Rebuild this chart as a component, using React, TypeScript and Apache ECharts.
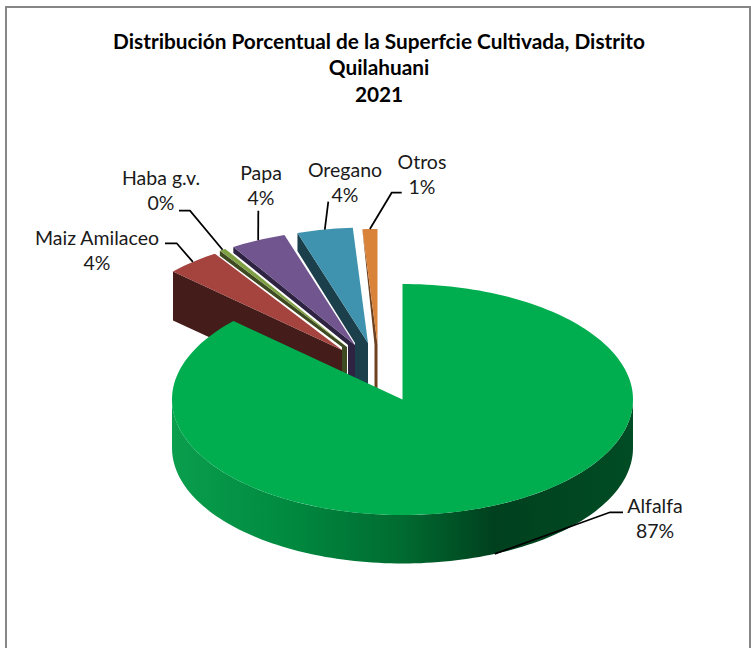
import React, { useEffect, useRef } from "react";
import * as echarts from "echarts";

const categories = ["Alfalfa", "Maiz Amilaceo", "Haba g.v.", "Papa", "Oregano", "Otros"];
const shares = [86.9, 3.8, 0.45, 3.9, 3.9, 1.05];
const titleLines = ["Distribución Porcentual de la Superfcie Cultivada, Distrito", "Quilahuani", "2021"];
const topColors = ["#00AE50", "#A5433F", "#7F9F45", "#70558E", "#3F93AE", "#D9823A"];
const wallColors = ["#006B30", "#441C19", "#3E4A22", "#2F2343", "#1C3F4C", "#6E4120"];

// Layout of the tilted, exploded pie
const CX = 402.5, CY = 399.5, RX = 230.5, RY = 115.5, DEPTH = 48.5;
// dx, dy: displacement of the slice tip; wallH, wallShift: visible shape of its dark wall
const explode = [
  { dx: 0, dy: 0, wallH: 0, wallShift: 0 },
  { dx: -60.5, dy: -49.5, wallH: 49, wallShift: 0 },
  { dx: -55.5, dy: -52.5, wallH: 5, wallShift: 5 },
  { dx: -47.5, dy: -54.5, wallH: 6, wallShift: 7 },
  { dx: -34.5, dy: -56.5, wallH: 18, wallShift: 13 },
  { dx: -25, dy: -55, wallH: 0, wallShift: 3 },
];
// label centre and the leader-line knee(s), per category
const labels = [
  { x: 655, y: 518, knee: [[610, 512.3], [623, 512.3]] },
  { x: 97, y: 250, knee: [[176.7, 243.3], [165, 243.3]] },
  { x: 161, y: 190, knee: [[190, 210.7], [179, 210.7]] },
  { x: 261, y: 185, knee: [[258.3, 210.7]] },
  { x: 345, y: 182, knee: [[328.3, 201.7]] },
  { x: 422, y: 174, knee: [[391.7, 192.7], [401.7, 192.7]] },
];

const total = shares.reduce((a, b) => a + b, 0);
const bounds: number[][] = [];
{
  let acc = 0;
  shares.forEach((v) => {
    const start = (acc / total) * 360;
    acc += v;
    bounds.push([start, (acc / total) * 360]);
  });
}
const drawOrder = [5, 4, 3, 2, 1, 0];

const ell = (deg: number, cx: number, cy: number) => {
  const t = (deg * Math.PI) / 180;
  return [cx + RX * Math.sin(t), cy - RY * Math.cos(t)];
};
const arc = (a: number, b: number, cx: number, cy: number) => {
  const n = Math.max(2, Math.ceil(Math.abs(b - a) / 1.5));
  const pts: number[][] = [];
  for (let k = 0; k <= n; k++) pts.push(ell(a + ((b - a) * k) / n, cx, cy));
  return pts;
};

const renderItem = (_params: any, api: any) => {
  const i = api.value(0);
  const share = api.value(1);
  const [start, end] = bounds[i];
  const e = explode[i];
  const cx = CX + e.dx;
  const cy = CY + e.dy;
  const children: any[] = [];
  const top = [[cx, cy], ...arc(start, end, cx, cy)];
  if (i === 0) {
    const front = arc(90, 270, cx, cy);
    const lower = front.map((p) => [p[0], p[1] + DEPTH]).reverse();
    children.push({
      type: "polygon",
      shape: { points: [...front, ...lower] },
      style: {
        fill: new echarts.graphic.LinearGradient(0, 0, 1, 0, [
          { offset: 0, color: "#0A9E4D" },
          { offset: 0.25, color: "#008A40" },
          { offset: 0.5, color: "#006B30" },
          { offset: 0.7, color: "#00401E" },
          { offset: 1, color: "#004C24" },
        ]),
      },
    });
  } else {
    const o = ell(start, cx, cy);
    children.push({
      type: "polygon",
      shape: {
        points: [
          o,
          [o[0], o[1] + e.wallH],
          [cx - e.wallShift, cy + (e.wallH > 20 ? DEPTH : 0)],
          [cx - e.wallShift, cy + DEPTH],
          [cx, cy + DEPTH],
          [cx, cy],
        ],
      },
      style: { fill: wallColors[i] },
    });
  }
  children.push({ type: "polygon", shape: { points: top }, style: { fill: topColors[i] } });

  const mid = (start + end) / 2;
  const m = ell(mid, cx, cy);
  const anchor = i === 0 ? [m[0], m[1] + DEPTH] : m;
  const lab = labels[i];
  children.push({
    type: "polyline",
    shape: { points: [anchor, ...lab.knee] },
    style: { stroke: "#000", lineWidth: 1.75, fill: "none" },
  });
  children.push({
    type: "text",
    style: {
      x: lab.x,
      y: lab.y,
      text: `${categories[i]}\n${Math.round((share / total) * 100)}%`,
      align: "center",
      verticalAlign: "middle",
      fontFamily: "Lato",
      fontSize: 19.5,
      lineHeight: 25.5,
      fill: "#1a1a1a",
    },
  });
  return { type: "group", children };
};

export default function App() {
  const ref = useRef<HTMLDivElement>(null);
  useEffect(() => {
    const chart = echarts.init(ref.current!, undefined, { renderer: "svg" });
    chart.setOption({
      animation: false,
      backgroundColor: "#fff",
      title: {
        text: titleLines.join("\n"),
        left: 374,
        top: 22,
        textAlign: "center",
        textStyle: { fontFamily: "Lato", fontSize: 20.8, fontWeight: "bold", color: "#000", lineHeight: 26.5 },
      },
      graphic: [
        {
          type: "rect",
          z: -1,
          shape: { x: 6, y: 7, width: 744, height: 700 },
          style: { fill: "#fff", stroke: "#868686", lineWidth: 2 },
        },
      ],
      series: [
        {
          type: "custom",
          coordinateSystem: "none",
          silent: true,
          clip: false,
          renderItem,
          data: drawOrder.map((i) => [i, shares[i]]),
        },
      ],
    });
    return () => chart.dispose();
  }, []);
  return <div ref={ref} style={{ position: "absolute", left: 0, top: 0, width: 751, height: 648 }} />;
}
